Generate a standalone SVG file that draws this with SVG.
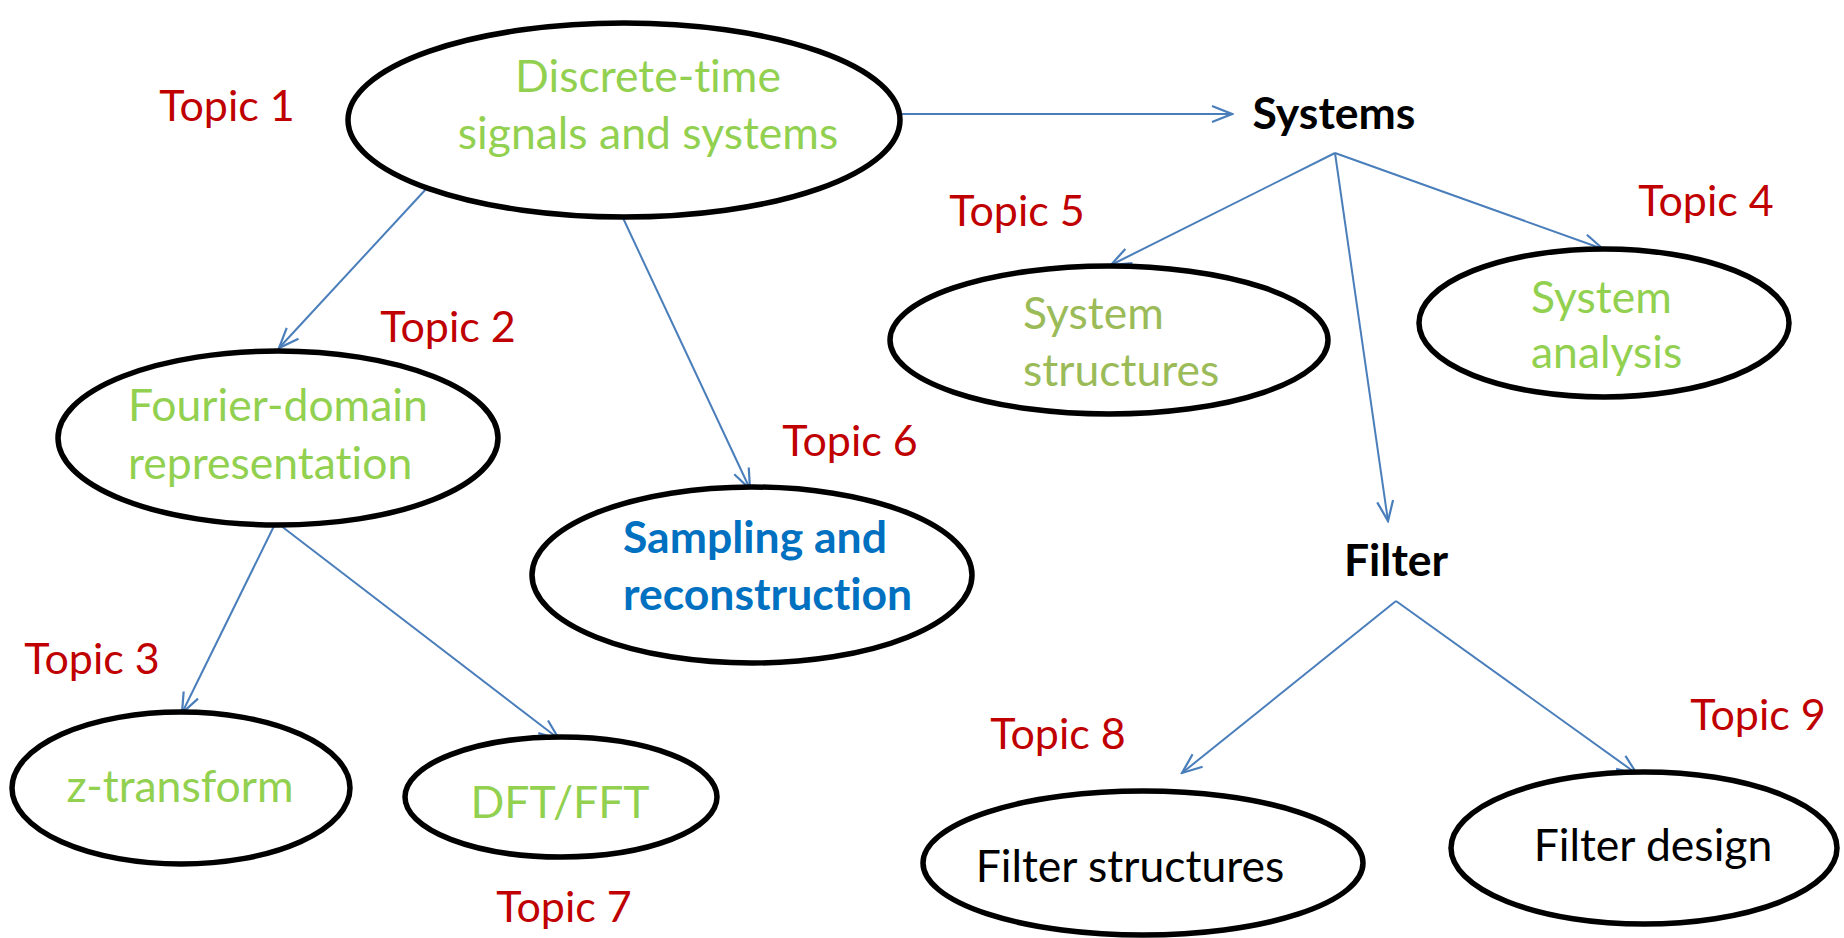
<svg xmlns="http://www.w3.org/2000/svg" width="1844" height="938" viewBox="0 0 1844 938">
<defs>
<marker id="arr" viewBox="0 0 24 24" refX="22" refY="12" markerWidth="24" markerHeight="24" markerUnits="userSpaceOnUse" orient="auto">
<path d="M2,4 L22,12 L2,20" fill="none" stroke="#4A7EBB" stroke-width="2.2"/>
</marker>
<style>
.n{fill:#fff;stroke:#000;stroke-width:5.5}
.t{font-family:Lato,"Open Sans",sans-serif;font-size:44.5px;font-variant-ligatures:none}
.tp{font-size:43px}
.g{fill:#92D050}
.o{fill:#9BBB59}
.r{fill:#C00000}
.b{fill:#000;font-weight:bold}
.k{fill:#000}
.s{fill:#0070C0;font-weight:bold}
.c{fill:none;stroke:#4A7EBB;stroke-width:2;marker-end:url(#arr)}
</style>
</defs>
<rect width="1844" height="938" fill="#fff"/>
<g id="connectors">
<line class="c" x1="902" y1="114" x2="1232" y2="114"/>
<line class="c" x1="427" y1="188" x2="279" y2="348"/>
<line class="c" x1="623" y1="218" x2="750" y2="489"/>
<line class="c" x1="276" y1="522" x2="182" y2="713"/>
<line class="c" x1="276" y1="522" x2="559" y2="739"/>
<line class="c" x1="1335" y1="153" x2="1111" y2="265"/>
<line class="c" x1="1335" y1="153" x2="1603" y2="249"/>
<line class="c" x1="1335" y1="153" x2="1388" y2="521"/>
<line class="c" x1="1396" y1="601" x2="1182" y2="773"/>
<line class="c" x1="1396" y1="601" x2="1637" y2="774"/>
</g>
<g id="n-discrete">
<ellipse class="n" cx="624" cy="120" rx="276" ry="97"/>
<text class="t g" x="648" y="92" text-anchor="middle">Discrete-time</text>
<text class="t g" x="648" y="149" text-anchor="middle">signals and systems</text>
</g>
<g id="topic1"><text class="t tp r" x="227" y="121" text-anchor="middle">Topic 1</text></g>
<g id="n-systems"><text class="t b" x="1334" y="129" text-anchor="middle">Systems</text></g>
<g id="n-fourier">
<ellipse class="n" cx="278" cy="438" rx="220" ry="87"/>
<text class="t g" x="128" y="421">Fourier-domain</text>
<text class="t g" x="128" y="479">representation</text>
</g>
<g id="topic2"><text class="t tp r" x="448" y="342" text-anchor="middle">Topic 2</text></g>
<g id="topic6"><text class="t tp r" x="850" y="456" text-anchor="middle">Topic 6</text></g>
<g id="n-sampling">
<ellipse class="n" cx="752" cy="575" rx="220" ry="88"/>
<text class="t s" x="623" y="553">Sampling and</text>
<text class="t s" x="623" y="610">reconstruction</text>
</g>
<g id="topic3"><text class="t tp r" x="92" y="674" text-anchor="middle">Topic 3</text></g>
<g id="n-z">
<ellipse class="n" cx="181" cy="788" rx="169" ry="76"/>
<text class="t g" x="180" y="802" text-anchor="middle">z-transform</text>
</g>
<g id="n-dft">
<ellipse class="n" cx="561" cy="797" rx="156" ry="60"/>
<text class="t g" x="560" y="818" text-anchor="middle">DFT/FFT</text>
</g>
<g id="topic7"><text class="t tp r" x="564" y="922" text-anchor="middle">Topic 7</text></g>
<g id="topic5"><text class="t tp r" x="1017" y="226" text-anchor="middle">Topic 5</text></g>
<g id="topic4"><text class="t tp r" x="1706" y="216" text-anchor="middle">Topic 4</text></g>
<g id="n-sysstruct">
<ellipse class="n" cx="1109" cy="340" rx="219" ry="74"/>
<text class="t o" x="1023" y="329">System</text>
<text class="t o" x="1023" y="386">structures</text>
</g>
<g id="n-sysanal">
<ellipse class="n" cx="1604" cy="323" rx="185" ry="74"/>
<text class="t g" x="1531" y="313">System</text>
<text class="t g" x="1531" y="368">analysis</text>
</g>
<g id="n-filter"><text class="t b" x="1396" y="576" text-anchor="middle">Filter</text></g>
<g id="topic8"><text class="t tp r" x="1058" y="749" text-anchor="middle">Topic 8</text></g>
<g id="topic9"><text class="t tp r" x="1758" y="730" text-anchor="middle">Topic 9</text></g>
<g id="n-fstruct">
<ellipse class="n" cx="1143" cy="863" rx="220" ry="72"/>
<text class="t k" x="1130" y="882" text-anchor="middle">Filter structures</text>
</g>
<g id="n-fdesign">
<ellipse class="n" cx="1644" cy="848" rx="193" ry="76"/>
<text class="t k" x="1653" y="861" text-anchor="middle">Filter design</text>
</g>
</svg>
